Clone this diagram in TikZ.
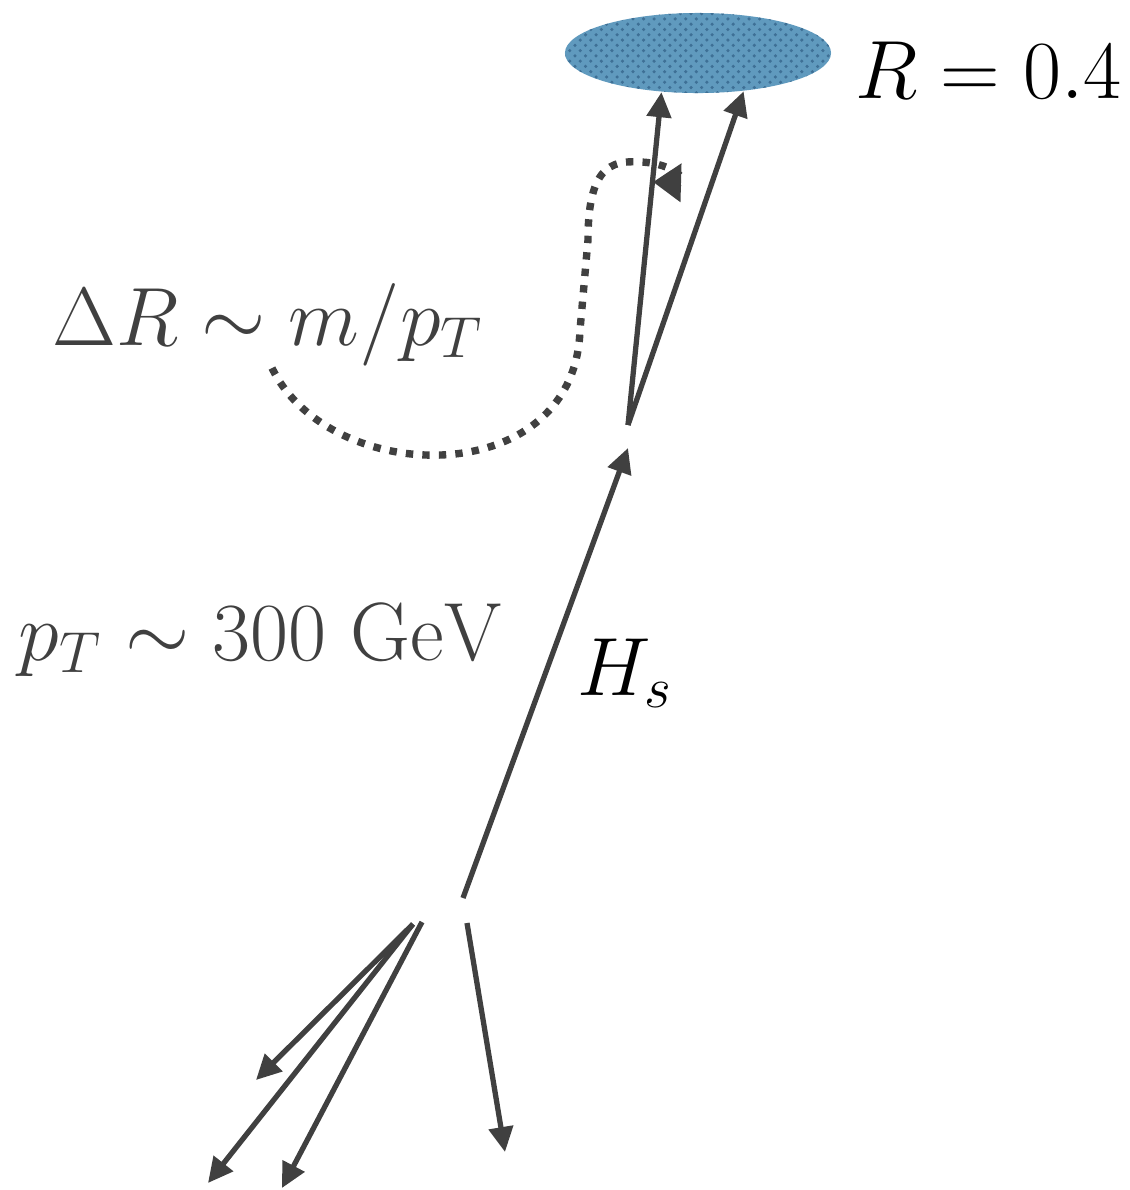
\RequirePackage{fix-cm}
\documentclass[tikz,border=0pt]{standalone}
\usepackage{amssymb}
\usepackage{amsmath}
\usepackage{tikz}
\usetikzlibrary{arrows.meta,shapes.geometric,patterns}

\definecolor{lineGrey}{RGB}{64,64,64}
\definecolor{coneBlue}{RGB}{96,154,190}
\definecolor{coneDots}{RGB}{62,112,150}

\begin{document}
\begin{tikzpicture}[
    x=0.01cm, y=-0.01cm,
    >={Triangle[length=0.25cm,width=0.24cm]},
    every node/.style={font=\fontsize{23.5}{28}\selectfont, inner sep=0pt},
    prong/.style={->, draw=lineGrey, line width=1.5pt},
    dotcurve/.style={-{Triangle[length=0.28cm,width=0.37cm]}, draw=lineGrey,
        line width=2.1pt, dash pattern=on 2.1pt off 2.6pt},
    greytext/.style={text=lineGrey, anchor=base west},
    blacktext/.style={text=black, anchor=base west}
]
\useasboundingbox (0,0) rectangle (1129,1190);

% jet cone
\node[ellipse, preaction={fill=coneBlue}, pattern=crosshatch dots, pattern color=coneDots,
    minimum width=2.66cm, minimum height=0.80cm] (cone) at (698,53) {};
\node[blacktext] (rlabel) at (855,98) {$R = 0.4$};

% decay vertices
\coordinate (topv) at (628,425);
\coordinate (hstip) at (628,448);
\coordinate (hsbase) at (463,898);
\coordinate (botv) at (413,924);
\coordinate (botr) at (467,923);

\draw[prong] (topv) -- (cone.-133);
\draw[prong] (topv) -- (cone.-40);
\draw[prong] (hsbase) -- (hstip);
\node[blacktext] (hslabel) at (577,695) {$H_s$};

% recoil
\draw[prong] (botv) -- ++(-157,156);
\draw[prong] (botv) -- ++(-205,259);
\draw[prong] (botv) ++(9,-2) -- ++(-140,266);
\draw[prong] (botr) -- ++(38,229);

% opening angle
\coordinate (drstart) at (272,368);
\draw[dotcurve] (drstart) .. controls (330,488) and (575,492) .. (580,330)
    -- (588,240) .. controls (588,168) and (610,160) .. (640,162)
    .. controls (675,163) and (690,183) .. (653,182);
\node[greytext] (drlabel) at (52,345) {$\Delta R \sim m/p_T$};
\node[greytext] (ptlabel) at (18,660) {$p_T \sim 300~\mathrm{GeV}$};
\end{tikzpicture}
\end{document}
